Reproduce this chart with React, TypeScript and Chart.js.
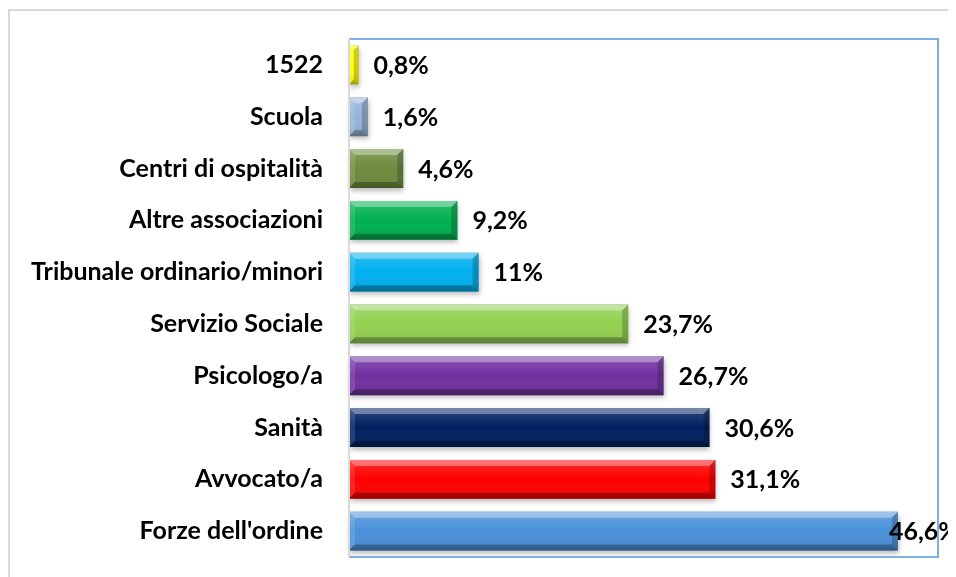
import React, { useEffect, useRef } from "react";
import { Chart, registerables } from "chart.js";

Chart.register(...registerables);

const categories = [
  "1522",
  "Scuola",
  "Centri di ospitalità",
  "Altre associazioni",
  "Tribunale ordinario/minori",
  "Servizio Sociale",
  "Psicologo/a",
  "Sanità",
  "Avvocato/a",
  "Forze dell'ordine",
];
const values = [0.8, 1.6, 4.6, 9.2, 11, 23.7, 26.7, 30.6, 31.1, 46.6];
const valueLabels = ["0,8%", "1,6%", "4,6%", "9,2%", "11%", "23,7%", "26,7%", "30,6%", "31,1%", "46,6%"];
const barColors = [
  "#FFFF00",
  "#95B3D7",
  "#6E8B3D",
  "#00B050",
  "#00B0F0",
  "#92D050",
  "#7030A0",
  "#002060",
  "#FF0000",
  "#4A90D9",
];

const FONT = "Lato, 'Open Sans', sans-serif";

const decorPlugin = {
  id: "decor",
  beforeDraw(chart: any) {
    const ctx = chart.ctx;
    ctx.save();
    ctx.fillStyle = "#ffffff";
    ctx.fillRect(0, 0, chart.width, chart.height);
    ctx.strokeStyle = "#D9D9D9";
    ctx.lineWidth = 2;
    ctx.beginPath();
    ctx.moveTo(1, chart.height + 5);
    ctx.lineTo(1, 2);
    ctx.lineTo(chart.width + 5, 2);
    ctx.stroke();
    ctx.restore();
  },
  beforeDatasetsDraw(chart: any) {
    const ctx = chart.ctx;
    const meta = chart.getDatasetMeta(0);
    ctx.save();
    meta.data.forEach((el: any) => {
      const p = el.getProps(["x", "y", "base", "height"], true);
      const top = p.y - p.height / 2;
      ctx.shadowColor = "rgba(0,0,0,0.45)";
      ctx.shadowBlur = 5;
      ctx.shadowOffsetX = 1;
      ctx.shadowOffsetY = 3;
      ctx.fillStyle = "rgba(120,120,120,0.6)";
      ctx.fillRect(p.base, top, p.x - p.base, p.height);
    });
    ctx.restore();
  },
  afterDatasetsDraw(chart: any) {
    const ctx = chart.ctx;
    const meta = chart.getDatasetMeta(0);
    const area = chart.chartArea;
    ctx.save();
    meta.data.forEach((el: any, i: number) => {
      const p = el.getProps(["x", "y", "base", "height"], true);
      const l = p.base;
      const r = p.x;
      const t = p.y - p.height / 2;
      const b = p.y + p.height / 2;
      const bv = Math.min(6, (r - l) / 2);
      const g = ctx.createLinearGradient(0, t, 0, b);
      g.addColorStop(0, "rgba(255,255,255,0.18)");
      g.addColorStop(0.5, "rgba(255,255,255,0)");
      g.addColorStop(1, "rgba(0,0,0,0.12)");
      ctx.fillStyle = g;
      ctx.fillRect(l, t, r - l, b - t);
      ctx.fillStyle = "rgba(255,255,255,0.35)";
      ctx.beginPath();
      ctx.moveTo(l, t);
      ctx.lineTo(r, t);
      ctx.lineTo(r - bv, t + bv);
      ctx.lineTo(l + bv, t + bv);
      ctx.closePath();
      ctx.fill();
      ctx.fillStyle = "rgba(255,255,255,0.12)";
      ctx.beginPath();
      ctx.moveTo(l, t);
      ctx.lineTo(l + bv, t + bv);
      ctx.lineTo(l + bv, b - bv);
      ctx.lineTo(l, b);
      ctx.closePath();
      ctx.fill();
      ctx.fillStyle = "rgba(0,0,0,0.28)";
      ctx.beginPath();
      ctx.moveTo(l, b);
      ctx.lineTo(r, b);
      ctx.lineTo(r - bv, b - bv);
      ctx.lineTo(l + bv, b - bv);
      ctx.closePath();
      ctx.fill();
      ctx.fillStyle = "rgba(0,0,0,0.2)";
      ctx.beginPath();
      ctx.moveTo(r, t);
      ctx.lineTo(r, b);
      ctx.lineTo(r - bv, b - bv);
      ctx.lineTo(r - bv, t + bv);
      ctx.closePath();
      ctx.fill();
      ctx.font = `bold 25px ${FONT}`;
      ctx.fillStyle = "#000000";
      ctx.textBaseline = "middle";
      ctx.textAlign = "left";
      const txt = valueLabels[i];
      const w = ctx.measureText(txt).width;
      let x = r + 15;
      if (x + w > area.right) x = r - 9;
      ctx.fillText(txt, x, p.y + 1);
    });
    ctx.strokeStyle = "#7FAEE0";
    ctx.lineWidth = 2;
    ctx.beginPath();
    ctx.moveTo(area.left, area.top);
    ctx.lineTo(area.right, area.top);
    ctx.lineTo(area.right, area.bottom);
    ctx.lineTo(area.left, area.bottom);
    ctx.stroke();
    ctx.strokeStyle = "#D9D9D9";
    ctx.beginPath();
    ctx.moveTo(area.left, area.top);
    ctx.lineTo(area.left, area.bottom);
    ctx.stroke();
    ctx.restore();
  },
};

export default function App() {
  const ref = useRef<HTMLCanvasElement | null>(null);
  useEffect(() => {
    if (!ref.current) return;
    const chart = new Chart(ref.current, {
      type: "bar",
      data: {
        labels: categories,
        datasets: [
          {
            data: values,
            backgroundColor: barColors,
            borderWidth: 0,
            barPercentage: 0.75,
            categoryPercentage: 1,
          },
        ],
      },
      options: {
        indexAxis: "y",
        animation: false,
        responsive: false,
        maintainAspectRatio: false,
        layout: { padding: { left: 0, top: 31, right: 18, bottom: 20 } },
        plugins: {
          legend: { display: false },
          tooltip: { enabled: false },
          title: { display: false },
        },
        scales: {
          x: {
            display: false,
            min: 0,
            max: 50,
          },
          y: {
            grid: { display: false, drawTicks: false, tickLength: 0 },
            border: { display: false },
            ticks: {
              padding: 26,
              color: "#000000",
              font: { family: FONT, size: 25, weight: "bold" },
            },
            afterFit(scale: any) {
              scale.width = 341;
              scale.paddingTop = 0;
              scale.paddingBottom = 0;
            },
          },
        },
      },
      plugins: [decorPlugin],
    });
    return () => chart.destroy();
  }, []);
  return (
    <div style={{ width: 948, height: 569 }}>
      <canvas ref={ref} width={948} height={569} style={{ display: "block" }} />
    </div>
  );
}
